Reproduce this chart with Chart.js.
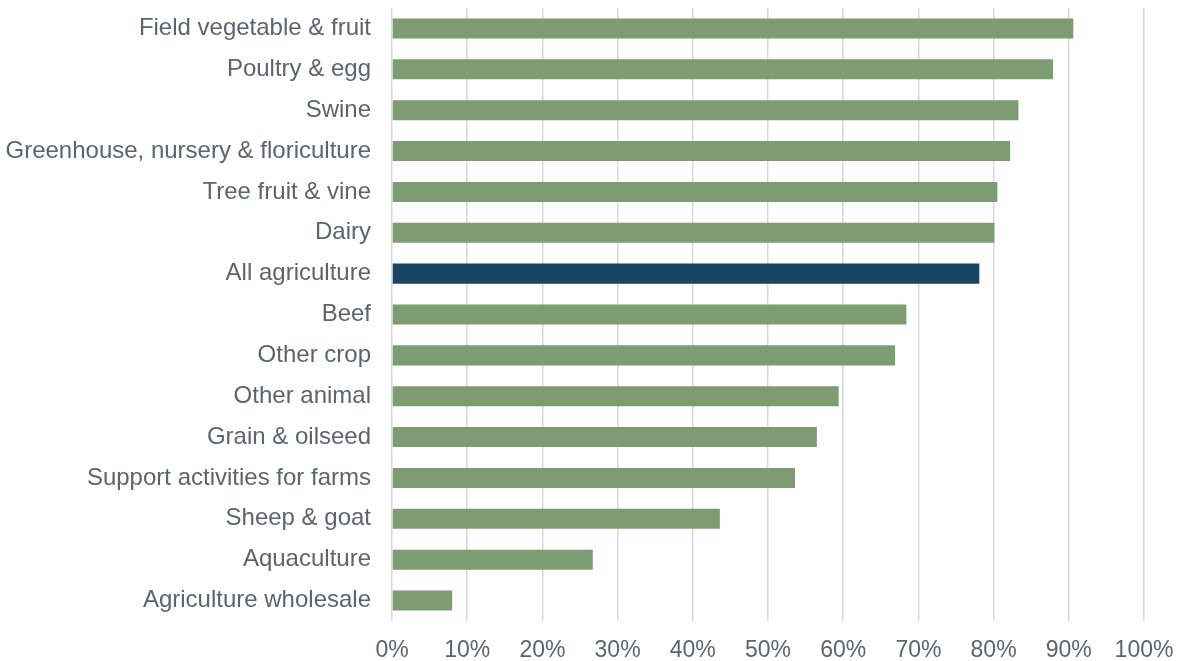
<!DOCTYPE html>
<html>
<head>
<meta charset="utf-8">
<script src="https://cdn.jsdelivr.net/npm/chart.js@4"></script>
<style>
  html, body { margin: 0; padding: 0; background: #fff; }
  #wrap { width: 1178px; height: 661px; position: relative; }
</style>
</head>
<body>
<div id="wrap"><canvas id="myChart"></canvas></div>
<script>
var categories = ["Field vegetable & fruit", "Poultry & egg", "Swine", "Greenhouse, nursery & floriculture",
  "Tree fruit & vine", "Dairy", "All agriculture", "Beef", "Other crop", "Other animal",
  "Grain & oilseed", "Support activities for farms", "Sheep & goat", "Aquaculture", "Agriculture wholesale"];
var values = [90.6, 87.9, 83.3, 82.2, 80.5, 80.1, 78.1, 68.4, 66.9, 59.4, 56.5, 53.6, 43.6, 26.7, 8.0];
var highlight = "All agriculture";

var barColors = categories.map(function (c) {
  return c === highlight ? '#1B4462' : '#7E9C72';
});

var ctx = document.getElementById("myChart").getContext('2d');
var chart = new Chart(ctx, {
  type: 'bar',
  data: {
    labels: categories,
    datasets: [{
      data: values,
      backgroundColor: barColors,
      categoryPercentage: 1.0,
      barPercentage: 0.49
    }]
  },
  options: {
    indexAxis: 'y',
    responsive: true,
    maintainAspectRatio: false,
    animation: false,
    layout: { padding: { top: 8, right: 34, bottom: 0, left: 0 } },
    plugins: { legend: { display: false }, tooltip: { enabled: false } },
    scales: {
      x: {
        min: 0,
        max: 100,
        ticks: {
          stepSize: 10,
          color: '#5F6370',
          padding: 16,
          font: { family: 'Liberation Sans', size: 23 },
          callback: function (v) { return v + '%'; }
        },
        grid: { color: '#D9D9D9', lineWidth: 1.5, drawTicks: false },
        border: { display: false },
        afterFit: function (scale) {
          scale.height = 40;
          scale.paddingLeft = 0;
          scale.paddingRight = 0;
        }
      },
      y: {
        ticks: {
          color: '#5F6370',
          padding: 21,
          font: { family: 'Liberation Sans', size: 24 }
        },
        grid: { display: false, drawTicks: false },
        border: { display: false },
        afterFit: function (scale) {
          scale.width = 392;
          scale.paddingTop = 0;
          scale.paddingBottom = 0;
        }
      }
    }
  }
});
</script>
</body>
</html>
